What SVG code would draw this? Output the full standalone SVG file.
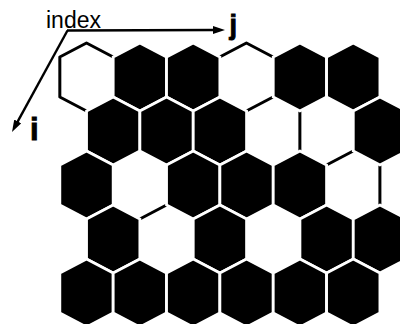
<svg xmlns="http://www.w3.org/2000/svg" xmlns:xlink="http://www.w3.org/1999/xlink" width="400" height="324" viewBox="0 0 400 324">
  <style>
    .wall { fill: none; stroke: #000; stroke-width: 3; stroke-linejoin: round; }
    .full { fill: #000; stroke: #fff; stroke-width: 2.8; stroke-linejoin: miter; }
    .axis { fill: none; stroke: #000; stroke-width: 2.4; }
    .lbl { font-family: "Liberation Sans", Arial, sans-serif; fill: #000; }
    .axl { font-family: "Liberation Sans", Arial, sans-serif; font-weight: bold; fill: #000; stroke: #000; stroke-width: 0.9; }
  </style>
  <defs>
    <polygon id="hex" points="0,-34 26.675,-20 26.675,20 0,34 -26.675,20 -26.675,-20"/>
    <marker id="arr" markerUnits="userSpaceOnUse" markerWidth="13" markerHeight="9" refX="2" refY="4" orient="auto">
      <path d="M0,0 L12,4 L0,8 z" fill="#000"/>
    </marker>
  </defs>
  <rect width="400" height="324" fill="#fff"/>

  <g id="axes">
    <text class="lbl" x="46" y="27.5" font-size="23">index</text>
    <line class="axis" x1="67" y1="30.5" x2="215" y2="30" marker-end="url(#arr)"/>
    <line class="axis" x1="67.5" y1="30.5" x2="16.8" y2="123.2" marker-end="url(#arr)"/>
    <text class="axl" x="229.5" y="34" font-size="27">j</text>
    <text class="axl" x="30" y="140" font-size="31">i</text>
  </g>

  <g id="connectors">
    <path class="wall" d="M113.175,57 L86.5,43 L59.825,57 L59.825,97 L86.5,111"/>
    <path class="wall" d="M219.725,57 L246.4,43 L273.075,57"/>
    <path class="wall" d="M246.4,111 L273.075,97"/>
    <path class="wall" d="M299.875,111 L299.875,151"/>
    <path class="wall" d="M326.55,165 L353.225,151"/>
    <path class="wall" d="M379.9,165 L379.9,205"/>
    <path class="wall" d="M139.85,219 L166.525,205"/>
  </g>

  <g id="cells">
    <g id="row1">
      <use id="c1-2" class="full" xlink:href="#hex" transform="translate(139.85,77)"/>
      <use id="c1-3" class="full" xlink:href="#hex" transform="translate(193.2,77)"/>
      <use id="c1-5" class="full" xlink:href="#hex" transform="translate(299.9,77)"/>
      <use id="c1-6" class="full" xlink:href="#hex" transform="translate(353.25,77)"/>
    </g>
    <g id="row2">
      <use id="c2-1" class="full" xlink:href="#hex" transform="translate(113.2,131)"/>
      <use id="c2-2" class="full" xlink:href="#hex" transform="translate(166.55,131)"/>
      <use id="c2-3" class="full" xlink:href="#hex" transform="translate(219.9,131)"/>
      <use id="c2-6" class="full" xlink:href="#hex" transform="translate(379.95,131)"/>
    </g>
    <g id="row3">
      <use id="c3-1" class="full" xlink:href="#hex" transform="translate(86.5,185)"/>
      <use id="c3-3" class="full" xlink:href="#hex" transform="translate(193.2,185)"/>
      <use id="c3-4" class="full" xlink:href="#hex" transform="translate(246.55,185)"/>
      <use id="c3-5" class="full" xlink:href="#hex" transform="translate(299.9,185)"/>
    </g>
    <g id="row4">
      <use id="c4-1" class="full" xlink:href="#hex" transform="translate(113.2,239)"/>
      <use id="c4-3" class="full" xlink:href="#hex" transform="translate(219.9,239)"/>
      <use id="c4-5" class="full" xlink:href="#hex" transform="translate(326.6,239)"/>
      <use id="c4-6" class="full" xlink:href="#hex" transform="translate(379.95,239)"/>
    </g>
    <g id="row5">
      <use id="c5-1" class="full" xlink:href="#hex" transform="translate(86.5,293)"/>
      <use id="c5-2" class="full" xlink:href="#hex" transform="translate(139.85,293)"/>
      <use id="c5-3" class="full" xlink:href="#hex" transform="translate(193.2,293)"/>
      <use id="c5-4" class="full" xlink:href="#hex" transform="translate(246.55,293)"/>
      <use id="c5-5" class="full" xlink:href="#hex" transform="translate(299.9,293)"/>
      <use id="c5-6" class="full" xlink:href="#hex" transform="translate(353.25,293)"/>
    </g>
  </g>
</svg>
